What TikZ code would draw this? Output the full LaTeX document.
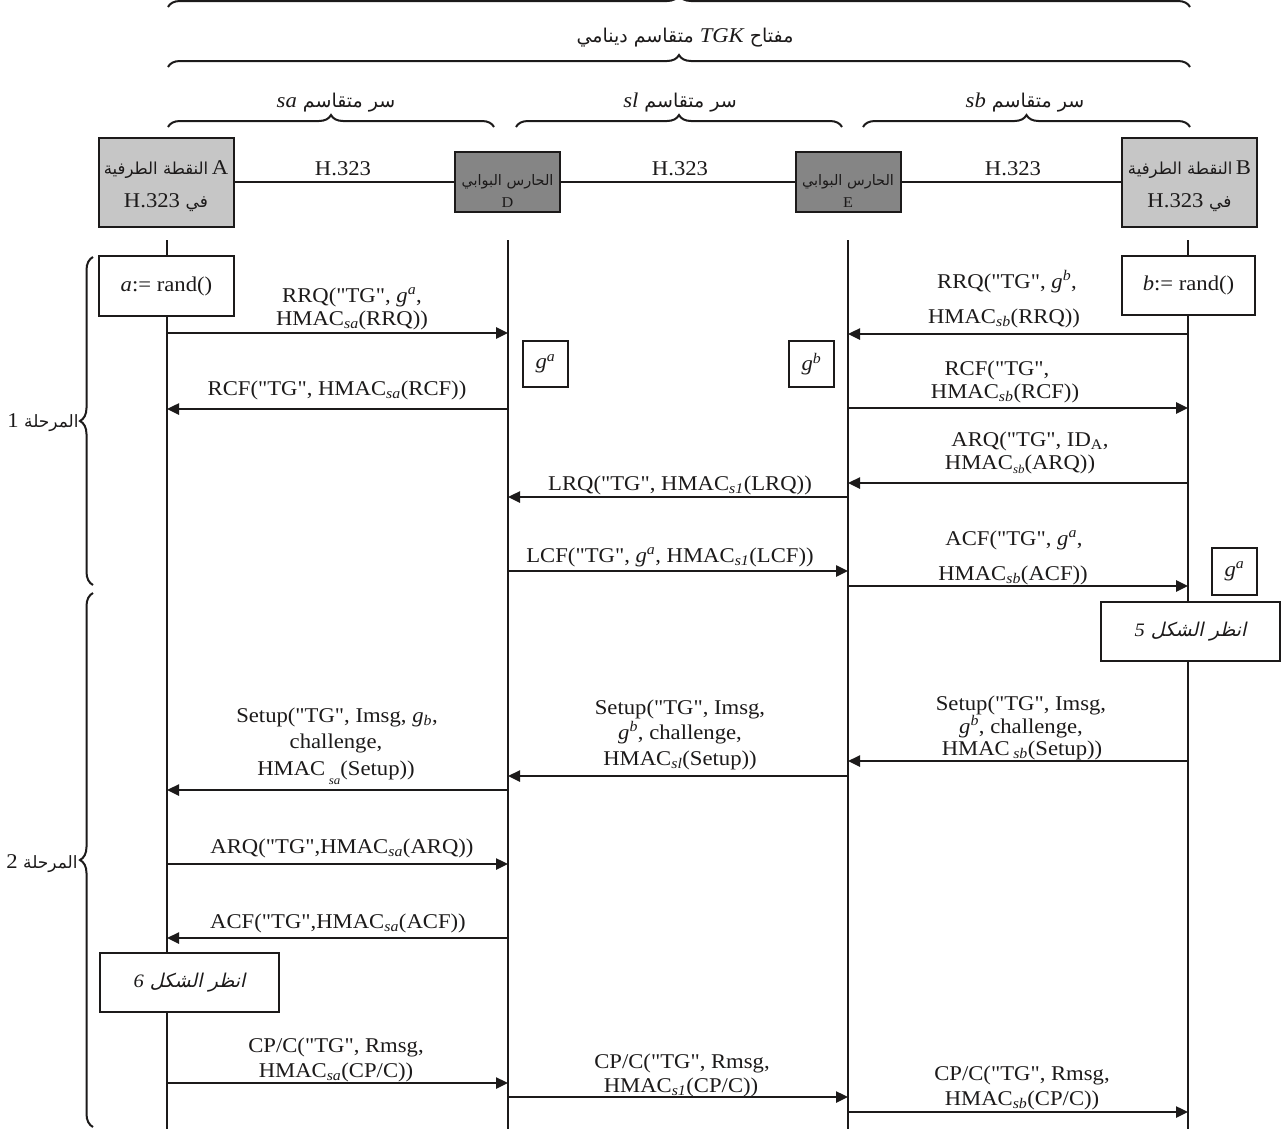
\documentclass[tikz,border=0pt]{standalone}
\usepackage{fontspec}
\setmainfont{Liberation Serif}[FakeStretch=1.08,Ligatures=TeXOff]
\newfontfamily\arabicfont[Script=Arabic]{DejaVu Sans}
\newfontfamily\arabicslant[Script=Arabic,FakeSlant=0.22]{DejaVu Sans}
\TeXXeTstate=1
\usetikzlibrary{arrows.meta,decorations.pathreplacing}

\definecolor{ink}{HTML}{1C1A1A}
\definecolor{epfill}{HTML}{C6C6C6}
\definecolor{gkfill}{HTML}{858585}

% text helpers
\newcommand\msgfont{\fontsize{21}{22}\selectfont}
\newcommand\artext[2][15]{{\arabicfont\fontsize{#1}{#1}\selectfont\beginR #2\endR}}
\newcommand\latin[1]{{\rmfamily\fontsize{21}{21}\selectfont\beginL #1\endL}}
\newcommand\hsb[1]{\textsubscript{\itshape #1}}
\newcommand\gsp[1]{\textit{g}\textsuperscript{\itshape #1}}
\newcommand\lowsub[1]{\raisebox{-9pt}{\fontsize{12}{12}\selectfont\itshape #1}}

\tikzset{
  life/.style={draw=ink, line width=2.8pt},
  link/.style={draw=ink, line width=2.8pt},
  msgarrow/.style={draw=ink, line width=2.5pt, -{Triangle[length=12pt,width=11pt]}},
  msg/.style={font=\msgfont, inner sep=0pt, anchor=base, text=ink},
  lbl/.style={inner sep=0pt, anchor=base, text=ink},
  epbox/.style={draw=ink, line width=2pt, fill=epfill, minimum width=135pt, minimum height=89pt, inner sep=0pt},
  gkbox/.style={draw=ink, line width=2pt, fill=gkfill, minimum width=105pt, minimum height=60pt, inner sep=0pt},
  plainbox/.style={draw=ink, line width=1.8pt, fill=white, inner sep=0pt, text=ink},
  brc/.style={draw=ink, line width=2pt, decorate, decoration={brace, amplitude=12pt}},
  sidebrc/.style={draw=ink, line width=2pt, decorate, decoration={brace, amplitude=13pt}},
}

\begin{document}
\begin{tikzpicture}[x=1pt,y=-1pt]
\fill[white] (0,0) rectangle (1285,1128);
\useasboundingbox (0,0) rectangle (1285,1128);

% ---- key hierarchy braces ----
\draw[brc] (168,7) -- (1190,7);
\node[lbl] (tgk) at (685,42) {\artext[19]{مفتاح \latin{\itshape TGK} متقاسم دينامي}};
\draw[brc] (168,67) -- (1190,67);
\node[lbl] (ssa) at (336,107) {\artext[19]{سر متقاسم \latin{\itshape sa}}};
\node[lbl] (ssl) at (680,107) {\artext[19]{سر متقاسم \latin{\itshape sl}}};
\node[lbl] (ssb) at (1025,107) {\artext[19]{سر متقاسم \latin{\itshape sb}}};
\draw[brc] (168,127) -- (494,127);
\draw[brc] (516,127) -- (842,127);
\draw[brc] (863,127) -- (1190,127);

% ---- entities ----
\node[epbox] (epA) at (166,182) {};
\node[gkbox] (gkD) at (507.5,182) {};
\node[gkbox] (gkE) at (848,182) {};
\node[epbox] (epB) at (1189.5,182) {};
\draw[link] (epA) -- (gkD);
\draw[link] (gkD) -- (gkE);
\draw[link] (gkE) -- (epB);
\node[lbl, font=\fontsize{21}{21}\selectfont] (h1) at (343,175) {H.323};
\node[lbl, font=\fontsize{21}{21}\selectfont] (h2) at (680,175) {H.323};
\node[lbl, font=\fontsize{21}{21}\selectfont] (h3) at (1013,175) {H.323};

\node[lbl, font=\fontsize{21}{21}\selectfont] (epA1) at (166,174) {\artext[16.5]{النقطة الطرفية}\,A};
\node[lbl, font=\fontsize{21}{21}\selectfont] (epA2) at (166,207) {H.323 \artext[17]{في}};
\node[lbl, font=\fontsize{21}{21}\selectfont] (epB1) at (1189.5,174) {\artext[16.5]{النقطة الطرفية}\,B};
\node[lbl, font=\fontsize{21}{21}\selectfont] (epB2) at (1189.5,207) {H.323 \artext[17]{في}};
\node[lbl] (gkD1) at (507.5,185) {\artext[14.5]{الحارس البوابي}};
\node[lbl, font=\fontsize{15}{15}\selectfont] (gkD2) at (507.5,207) {D};
\node[lbl] (gkE1) at (848,185) {\artext[14.5]{الحارس البوابي}};
\node[lbl, font=\fontsize{15}{15}\selectfont] (gkE2) at (848,207) {E};

% ---- lifelines ----
\coordinate (A) at (167,240);
\coordinate (D) at (508,240);
\coordinate (E) at (848,240);
\coordinate (B) at (1188,240);
\foreach \p in {A,D,E,B} \draw[life] (\p) -- (\p |- 0,1130);

% ---- phases ----
\draw[sidebrc] (93,585) -- (93,257);
\draw[sidebrc] (93,1127) -- (93,593);
\node[lbl] (ph1) at (43,427) {\artext[17]{المرحلة \latin{1}}};
\node[lbl] (ph2) at (42,868) {\artext[17]{المرحلة \latin{2}}};

% ---- phase 1 messages ----
\draw[msgarrow] (A |- 0,333) -- (D |- 0,333);
\node[msg] (rrqa1) at (352,302) {RRQ("TG", \gsp{a},};
\node[msg] (rrqa2) at (352,325) {HMAC\hsb{sa}(RRQ))};
\draw[msgarrow] (D |- 0,409) -- (A |- 0,409);
\node[msg] (rcfa) at (337,395) {RCF("TG", HMAC\hsb{sa}(RCF))};

\draw[msgarrow] (B |- 0,334) -- (E |- 0,334);
\node[msg] (rrqb1) at (1007,288) {RRQ("TG", \gsp{b},};
\node[msg] (rrqb2) at (1004,323) {HMAC\hsb{sb}(RRQ))};
\draw[msgarrow] (E |- 0,408) -- (B |- 0,408);
\node[msg] (rcfb1) at (997,375) {RCF("TG",};
\node[msg] (rcfb2) at (1005,398) {HMAC\hsb{sb}(RCF))};

\draw[msgarrow] (B |- 0,483) -- (E |- 0,483);
\node[msg] (arqb1) at (1030,446) {ARQ("TG", ID\textsubscript{A},};
\node[msg] (arqb2) at (1020,469) {HMAC\raisebox{-4pt}{\fontsize{12}{12}\selectfont\itshape sb}(ARQ))};
\draw[msgarrow] (E |- 0,497) -- (D |- 0,497);
\node[msg] (lrq) at (680,490) {LRQ("TG", HMAC\hsb{s1}(LRQ))};
\draw[msgarrow] (D |- 0,571) -- (E |- 0,571);
\node[msg] (lcf) at (670,562) {LCF("TG", \gsp{a}, HMAC\hsb{s1}(LCF))};
\draw[msgarrow] (E |- 0,586) -- (B |- 0,586);
\node[msg] (acfb1) at (1014,545) {ACF("TG", \gsp{a},};
\node[msg] (acfb2) at (1013,580) {HMAC\hsb{sb}(ACF))};

% ---- phase 2 messages ----
\draw[msgarrow] (B |- 0,761) -- (E |- 0,761);
\node[msg] (sub1) at (1021,710) {Setup("TG", Imsg,};
\node[msg] (sub2) at (1021,733) {\gsp{b}, challenge,};
\node[msg] (sub3) at (1022,755) {HMAC\,\hsb{sb}(Setup))};
\draw[msgarrow] (E |- 0,776) -- (D |- 0,776);
\node[msg] (sud1) at (680,714) {Setup("TG", Imsg,};
\node[msg] (sud2) at (680,739) {\gsp{b}, challenge,};
\node[msg] (sud3) at (680,765) {HMAC\hsb{sl}(Setup))};
\draw[msgarrow] (D |- 0,790) -- (A |- 0,790);
\node[msg] (sua1) at (337,722) {Setup("TG", Imsg, \textit{g}\hsb{b},};
\node[msg] (sua2) at (336,748) {challenge,};
\node[msg] (sua3) at (336,775) {HMAC\,\lowsub{sa}(Setup))};
\draw[msgarrow] (A |- 0,864) -- (D |- 0,864);
\node[msg] (arqa) at (342,853) {ARQ("TG",HMAC\hsb{sa}(ARQ))};
\draw[msgarrow] (D |- 0,938) -- (A |- 0,938);
\node[msg] (acfa) at (338,928) {ACF("TG",HMAC\hsb{sa}(ACF))};

\draw[msgarrow] (A |- 0,1083) -- (D |- 0,1083);
\node[msg] (cpa1) at (336,1052) {CP/C("TG", Rmsg,};
\node[msg] (cpa2) at (336,1077) {HMAC\hsb{sa}(CP/C))};
\draw[msgarrow] (D |- 0,1097) -- (E |- 0,1097);
\node[msg] (cpd1) at (682,1068) {CP/C("TG", Rmsg,};
\node[msg] (cpd2) at (681,1092) {HMAC\hsb{s1}(CP/C))};
\draw[msgarrow] (E |- 0,1112) -- (B |- 0,1112);
\node[msg] (cpe1) at (1022,1080) {CP/C("TG", Rmsg,};
\node[msg] (cpe2) at (1022,1105) {HMAC\hsb{sb}(CP/C))};

% ---- local boxes ----
\node[plainbox, minimum width=135pt, minimum height=60pt, font=\msgfont] (arand) at (166.5,286) {\textit{a}:= rand()};
\node[plainbox, minimum width=133pt, minimum height=59pt, font=\msgfont] (brand) at (1188.5,285.5) {\textit{b}:= rand()};
\node[plainbox, minimum width=45pt, minimum height=46pt, font=\msgfont] (gaD) at (545.5,364) {\gsp{a}};
\node[plainbox, minimum width=45pt, minimum height=46pt, font=\msgfont] (gbE) at (811.5,364) {\gsp{b}};
\node[plainbox, minimum width=45pt, minimum height=47pt, font=\msgfont] (gaB) at (1234.5,571.5) {\gsp{a}};
\node[plainbox, minimum width=179pt, minimum height=59pt] (see5) at (1190.5,631.5)
  {{\arabicslant\fontsize{19}{19}\selectfont\beginR انظر الشكل {\rmfamily\itshape\fontsize{19}{19}\selectfont 5}\endR}};
\node[plainbox, minimum width=179pt, minimum height=59pt] (see6) at (189.5,982.5)
  {{\arabicslant\fontsize{19}{19}\selectfont\beginR انظر الشكل {\rmfamily\itshape\fontsize{19}{19}\selectfont 6}\endR}};
\end{tikzpicture}
\end{document}
